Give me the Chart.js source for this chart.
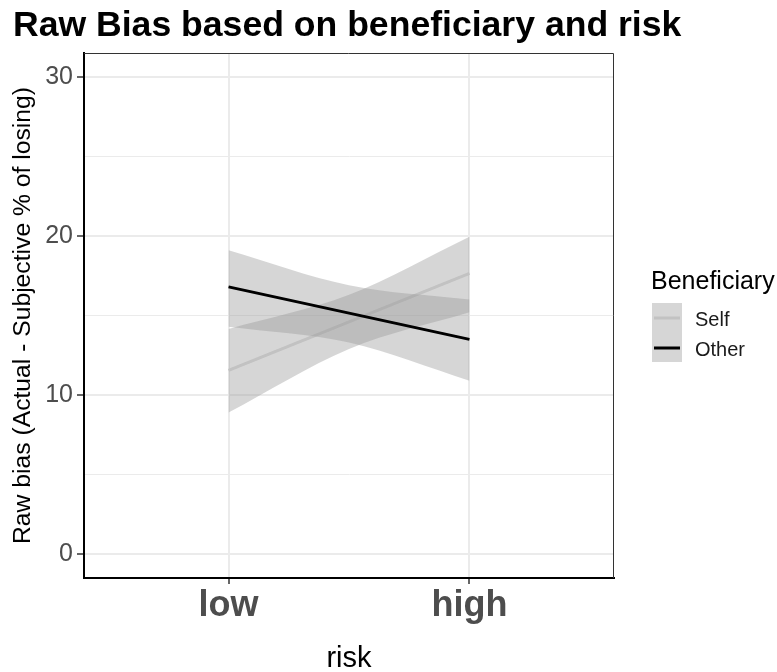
<!DOCTYPE html>
<html>
<head>
<meta charset="utf-8">
<script src="https://cdn.jsdelivr.net/npm/chart.js@4.4.1/dist/chart.umd.min.js"></script>
<style>
  body { margin: 0; background: #fff; }
  #wrap { width: 777px; height: 672px; }
</style>
</head>
<body>
<div id="wrap"><canvas id="biasChart" width="777" height="672"></canvas></div>
<script>
// risk categories and tick values
const riskLabels = ['low', 'high'];
const riskPos = [0, 1];
const yTicks = [0, 5, 10, 15, 20, 25, 30];

// fitted lines (low, high)
const selfLine = [11.55, 17.65];
const otherLine = [16.8, 13.5];

// confidence bands read at risk = 0, 0.5, 1
const bandRisk = [0, 0.5, 1];
const selfUpper = [14.15, 16.3, 19.95];
const selfLower = [8.9, 12.9, 15.2];
const otherUpper = [19.1, 16.9, 16.0];
const otherLower = [14.3, 13.3, 10.9];

const FONT = '"Liberation Sans", Arial, sans-serif';
const BAND = 'rgba(153,153,153,0.4)';
const SELF_COL = '#c2c2c2';
const OTHER_COL = '#000000';

const pts = (xs, ys) => xs.map((x, i) => ({ x: x, y: ys[i] }));

const band = (label, ys, fill, order) => ({
  label: label,
  data: pts(bandRisk, ys),
  borderWidth: 0,
  borderColor: 'rgba(0,0,0,0)',
  backgroundColor: BAND,
  pointRadius: 0,
  cubicInterpolationMode: 'monotone',
  fill: fill,
  order: order,
});

const extras = {
  id: 'extras',
  afterDraw(chart) {
    const { ctx, chartArea: a } = chart;
    ctx.save();
    // title
    ctx.fillStyle = '#000';
    ctx.font = 'bold 35.6px ' + FONT;
    ctx.textBaseline = 'alphabetic';
    ctx.textAlign = 'left';
    ctx.fillText('Raw Bias based on beneficiary and risk', 13, 36);

    // top / right panel border
    ctx.strokeStyle = '#333';
    ctx.lineWidth = 1;
    ctx.beginPath();
    ctx.moveTo(a.left, a.top + 0.5);
    ctx.lineTo(a.right - 0.5, a.top + 0.5);
    ctx.lineTo(a.right - 0.5, a.bottom);
    ctx.stroke();

    // legend
    ctx.font = '25px ' + FONT;
    ctx.fillStyle = '#000';
    ctx.fillText('Beneficiary', 651, 289);
    ctx.fillStyle = BAND;
    ctx.fillRect(652, 303, 30, 59);
    ctx.lineWidth = 3;
    ctx.strokeStyle = SELF_COL;
    ctx.beginPath(); ctx.moveTo(654, 318); ctx.lineTo(680, 318); ctx.stroke();
    ctx.strokeStyle = OTHER_COL;
    ctx.beginPath(); ctx.moveTo(654, 348); ctx.lineTo(680, 348); ctx.stroke();
    ctx.font = '20px ' + FONT;
    ctx.fillStyle = '#1a1a1a';
    ctx.fillText('Self', 695, 326);
    ctx.fillText('Other', 695, 356);
    ctx.restore();
  }
};

const ctx = document.getElementById('biasChart').getContext('2d');
const chart = new Chart(ctx, {
  type: 'line',
  data: {
    datasets: [
      {
        label: 'Other',
        data: pts(riskPos, otherLine),
        borderColor: OTHER_COL,
        borderWidth: 3,
        pointRadius: 0,
        fill: false,
        order: 0,
      },
      band('Other upper', otherUpper, 2, 1),
      band('Other lower', otherLower, false, 1),
      {
        label: 'Self',
        data: pts(riskPos, selfLine),
        borderColor: SELF_COL,
        borderWidth: 3,
        pointRadius: 0,
        fill: false,
        order: 2,
      },
      band('Self upper', selfUpper, 5, 3),
      band('Self lower', selfLower, false, 3),
    ],
  },
  options: {
    responsive: false,
    animation: false,
    layout: { padding: { left: 11, right: 163, top: 53, bottom: 0 } },
    plugins: {
      legend: { display: false },
      title: { display: false },
      tooltip: { enabled: false },
    },
    scales: {
      x: {
        type: 'linear',
        min: -0.6,
        max: 1.6,
        afterBuildTicks: (s) => { s.ticks = riskPos.map(v => ({ value: v })); },
        afterFit: (s) => { s.height = 94; },
        ticks: {
          callback: (v) => riskLabels[riskPos.indexOf(v)],
          font: { family: FONT, size: 36, weight: 'bold' },
          color: '#4d4d4d',
          padding: 0,
          maxRotation: 0,
        },
        grid: { color: '#ebebeb', lineWidth: 2, tickColor: '#333', tickLength: 6, tickWidth: 1.5 },
        border: { color: '#000', width: 2 },
        title: {
          display: true,
          text: 'risk',
          font: { family: FONT, size: 29, lineHeight: 1 },
          color: '#000',
          padding: { top: 0, bottom: -1 },
        },
      },
      y: {
        min: -1.5,
        max: 31.5,
        afterBuildTicks: (s) => { s.ticks = yTicks.map(v => ({ value: v })); },
        afterFit: (s) => { s.width = 73; },
        ticks: {
          callback: (v) => (v % 10 === 0 ? String(v) : ''),
          font: { family: FONT, size: 25 },
          color: '#4d4d4d',
          padding: 4,
        },
        grid: {
          color: '#ebebeb',
          lineWidth: (c) => (c.tick && c.tick.value % 10 === 0 ? 2 : 1),
          tickColor: (c) => (c.tick && c.tick.value % 10 === 0 ? '#333' : 'rgba(0,0,0,0)'),
          tickLength: 7,
          tickWidth: 1.5,
        },
        border: { color: '#000', width: 2 },
        title: {
          display: true,
          text: 'Raw bias (Actual - Subjective % of losing)',
          font: { family: FONT, size: 24.7, lineHeight: 1 },
          color: '#000',
          padding: 0,
        },
      },
    },
  },
  plugins: [extras],
});
</script>
</body>
</html>
